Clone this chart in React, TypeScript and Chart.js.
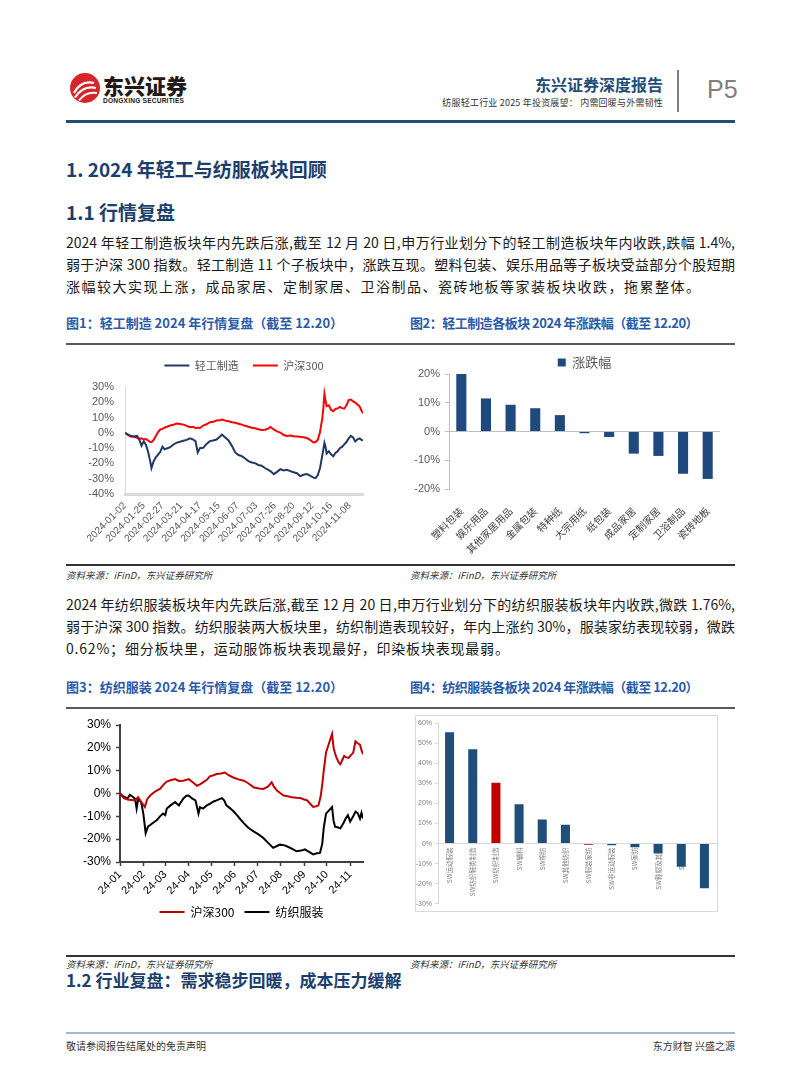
import React, { useEffect, useRef } from 'react';
import { Chart, registerables } from 'chart.js';

Chart.register(...registerables);

const SANS = "'Liberation Sans', 'Noto Sans CJK SC', sans-serif";
const CJK = "'Noto Sans CJK SC', 'Liberation Sans', sans-serif";
Chart.defaults.font.family = SANS;

// ---------------- Figure 1: 轻工制造 vs 沪深300 (trading-day index) ----------------
const fig1Series = ['轻工制造', '沪深300'];
const fig1TickDays = [0, 17, 34, 51, 68, 85, 102, 119, 136, 153, 170, 187, 204];
const fig1TickLabels = ['2024-01-02', '2024-01-25', '2024-02-27', '2024-03-21', '2024-04-17', '2024-05-15', '2024-06-07', '2024-07-03', '2024-07-26', '2024-08-20', '2024-09-12', '2024-10-16', '2024-11-08'];
const fig1Days = [0, 3, 5, 8, 11, 13, 15, 17, 19, 21, 23, 24, 26, 28, 30, 32, 34, 36, 38, 41, 44, 47, 50, 53, 56, 59, 62, 64, 66, 68, 71, 74, 77, 80, 83, 86, 88, 91, 94, 97, 100, 103, 106, 109, 112, 115, 118, 121, 124, 127, 130, 132, 135, 138, 141, 144, 147, 150, 153, 156, 159, 162, 165, 168, 171, 173, 175, 177, 178, 179, 180, 181, 182, 183, 185, 187, 189, 191, 193, 195, 197, 199, 201, 203, 205, 207, 209, 211, 213, 215, 216];
const fig1LightIndustry = [0, -1.2, -1.8, -2.4, -2.0, -4.5, -8.4, -5.6, -7.8, -12.5, -19.0, -23.0, -18.5, -16.0, -14.2, -12.5, -9.0, -10.8, -10.2, -9.4, -7.6, -6.4, -5.8, -5.2, -4.6, -3.6, -4.4, -5.6, -12.8, -10.0, -9.8, -7.2, -5.4, -5.0, -4.4, -2.6, -1.2, -3.0, -5.0, -8.5, -12.8, -14.5, -15.2, -16.8, -18.5, -19.4, -19.8, -21.0, -21.5, -23.0, -24.2, -25.0, -27.0, -25.5, -23.8, -24.6, -24.2, -25.0, -25.8, -26.4, -28.3, -27.4, -27.0, -28.0, -29.3, -29.6, -27.6, -23.0, -19.0, -15.0, -11.0, -6.5, -9.0, -13.5, -12.0, -14.0, -15.3, -13.2, -12.0, -10.0, -9.2, -7.5, -6.0, -3.6, -2.0, -3.0, -5.6, -4.2, -3.6, -4.8, -4.6];
const fig1Hs300 = [0, -1.5, -2.4, -2.6, -3.2, -3.9, -3.5, -4.4, -4.0, -5.0, -6.0, -6.1, -4.6, -2.0, 0.5, 2.2, 2.6, 3.4, 4.0, 4.8, 5.3, 6.1, 5.8, 5.4, 4.6, 3.7, 4.0, 3.0, 3.4, 3.2, 4.8, 5.6, 7.0, 7.2, 8.1, 8.2, 8.7, 8.0, 7.6, 7.0, 6.6, 6.0, 5.4, 4.6, 4.0, 3.3, 3.0, 2.4, 1.8, 2.0, 2.8, 3.8, 2.2, 1.0, 0.2, -1.4, -2.0, -1.8, -2.2, -2.4, -2.6, -2.9, -3.4, -4.6, -6.3, -6.0, -4.5, 0.5, 5.0, 9.0, 16.0, 25.5, 21.0, 17.5, 18.0, 15.0, 14.2, 15.6, 16.0, 17.0, 16.2, 15.8, 18.0, 21.4, 21.8, 20.6, 19.8, 18.6, 17.2, 14.0, 12.8];

// ---------------- Figure 2: 轻工制造各板块涨跌幅 ----------------
const fig2Series = '涨跌幅';
const fig2Categories = ['塑料包装', '娱乐用品', '其他家居用品', '金属包装', '特种纸', '大宗用纸', '纸包装', '成品家居', '定制家居', '卫浴制品', '瓷砖地板'];
const fig2Change = [20.0, 11.5, 9.3, 8.1, 5.7, -0.6, -1.9, -7.7, -8.5, -14.7, -16.5];

// ---------------- Figure 3: 纺织服装 vs 沪深300 (calendar-day index) ----------------
const fig3Series = ['沪深300', '纺织服装'];
const fig3MonthTicks = [0, 31, 60, 91, 121, 152, 182, 213, 244, 274, 305];
const fig3MonthLabels = ['24-01', '24-02', '24-03', '24-04', '24-05', '24-06', '24-07', '24-08', '24-09', '24-10', '24-11'];
const fig3Hs300Days = [0, 5, 10, 15, 20, 24, 28, 33, 36, 40, 44, 48, 53, 58, 62, 67, 73, 78, 84, 91, 96, 102, 106, 110, 115, 119, 124, 128, 134, 139, 144, 150, 157, 164, 170, 177, 184, 190, 196, 201, 204, 208, 213, 217, 222, 228, 234, 239, 244, 248, 252, 256, 260, 263, 266, 268, 270, 273, 281, 283, 285, 287, 290, 292, 295, 297, 300, 303, 306, 309, 312, 315, 318, 320, 322];
const fig3Hs300 = [0, -2.0, -2.6, -2.8, -3.0, -1.6, -3.7, -5.9, -2.5, -0.9, 0.2, 1.2, 2.0, 4.0, 5.2, 5.8, 6.3, 5.5, 5.6, 6.3, 5.0, 3.4, 4.0, 4.9, 6.0, 7.5, 8.0, 8.5, 8.8, 9.2, 8.0, 7.0, 6.2, 5.6, 4.5, 2.7, 2.2, 2.0, 3.0, 4.9, 3.0, 1.3, 0.0, -0.9, -1.2, -1.6, -1.9, -2.0, -2.6, -3.0, -4.5, -5.9, -5.6, -5.2, -1.0, 4.0, 10.0, 18.0, 26.1, 20.0, 17.5, 15.6, 13.5, 12.8, 15.0, 16.4, 15.8, 15.6, 16.8, 17.8, 22.8, 22.0, 21.4, 19.0, 17.2];
const fig3TextileDays = [0, 5, 10, 13, 16, 20, 22, 24, 28, 31, 34, 37, 40, 44, 49, 53, 57, 60, 62, 67, 73, 78, 84, 88, 91, 96, 100, 104, 106, 110, 115, 119, 124, 128, 135, 138, 141, 146, 151, 155, 160, 164, 170, 177, 184, 190, 196, 203, 208, 212, 217, 221, 227, 234, 240, 245, 250, 256, 261, 265, 268, 270, 273, 281, 283, 285, 288, 292, 296, 299, 302, 305, 309, 312, 315, 318, 320, 322];
const fig3Textile = [0, -1.4, -2.2, -0.6, -1.2, -2.3, -6.6, -2.5, -3.7, -9.0, -17.4, -14.5, -13.8, -12.8, -11.6, -10.0, -8.8, -9.5, -6.6, -5.2, -3.7, -5.2, -2.2, -1.0, -0.9, -2.3, -3.0, -8.8, -6.0, -6.6, -5.2, -4.5, -3.5, -3.0, -2.0, -3.0, -5.2, -6.5, -8.0, -9.5, -11.5, -13.0, -15.0, -16.6, -18.0, -19.5, -21.5, -23.8, -23.0, -22.4, -22.6, -23.1, -24.0, -25.3, -25.0, -24.5, -25.5, -26.7, -26.2, -26.0, -22.0, -15.0, -8.8, -5.9, -12.0, -14.5, -14.8, -15.2, -13.0, -11.0, -9.5, -12.3, -10.0, -8.0, -8.6, -11.0, -8.5, -10.9];

// ---------------- Figure 4: 纺织服装各板块涨跌幅 ----------------
const fig4Categories = ['SW运动服装', 'SW纺织鞋类制造', 'SW纺织制造', 'SW辅料', 'SW棉纺', 'SW其他纺织', 'SW服装家纺', 'SW非运动服装', 'SW家纺', 'SW鞋帽及其他', 'SW饰品', 'SW印染'];
const fig4Change = [55.5, 47.0, 30.3, 19.6, 12.0, 9.4, -0.62, -0.8, -1.8, -4.9, -11.5, -22.2];
const fig4Highlighted = ['SW纺织制造', 'SW服装家纺'];

const pct = (v: any) => v + '%';

function legendExtra(extra: number) {
  return {
    id: 'legendExtra',
    beforeLayout(chart: any) {
      const lg = chart.legend;
      if (lg && !lg.__patched) {
        const orig = lg.fit.bind(lg);
        lg.fit = () => {
          orig();
          lg.height += extra;
        };
        lg.__patched = true;
      }
    },
  };
}

function ChartBox({ left, top, width, height, make }: any) {
  const ref = useRef<HTMLCanvasElement>(null);
  useEffect(() => {
    const chart = new Chart(ref.current as HTMLCanvasElement, make());
    return () => chart.destroy();
  }, []);
  return (
    <canvas
      ref={ref}
      width={width}
      height={height}
      style={{ position: 'absolute', left, top, width, height, display: 'block' }}
    />
  );
}

const fig1Config = (): any => ({
  type: 'line',
  data: {
    datasets: [
      {
        label: fig1Series[0],
        data: fig1Days.map((d, i) => ({ x: d, y: fig1LightIndustry[i] })),
        borderColor: '#1f3864',
        backgroundColor: '#1f3864',
        borderWidth: 2,
        pointRadius: 0,
        tension: 0,
      },
      {
        label: fig1Series[1],
        data: fig1Days.map((d, i) => ({ x: d, y: fig1Hs300[i] })),
        borderColor: '#ff0000',
        backgroundColor: '#ff0000',
        borderWidth: 2,
        pointRadius: 0,
        tension: 0,
      },
    ],
  },
  options: {
    responsive: false,
    animation: false,
    devicePixelRatio: 1,
    layout: { padding: { left: 0, right: 29, top: 0, bottom: 0 } },
    plugins: {
      tooltip: { enabled: false },
      legend: {
        position: 'top',
        fullSize: false,
        labels: {
          usePointStyle: true,
          pointStyle: 'line',
          pointStyleWidth: 25,
          padding: 14,
          color: '#595959',
          font: { size: 11, family: CJK },
        },
      },
    },
    scales: {
      x: {
        type: 'linear',
        min: 0,
        max: 216,
        afterBuildTicks: (s: any) => {
          s.ticks = fig1TickDays.map((v) => ({ value: v }));
        },
        afterFit: (s: any) => {
          s.height = 68;
        },
        grid: { display: false, drawTicks: false },
        border: { display: true, color: '#d9d9d9', width: 3 },
        ticks: {
          autoSkip: false,
          minRotation: 45,
          maxRotation: 45,
          padding: 6,
          color: '#595959',
          font: { size: 10 },
          callback: (_v: any, i: number) => fig1TickLabels[i],
        },
      },
      y: {
        min: -40,
        max: 30,
        afterFit: (s: any) => {
          s.width = 59;
        },
        grid: { display: false, drawTicks: false },
        border: { display: true, color: '#d9d9d9', width: 1 },
        ticks: { autoSkip: false, stepSize: 10, padding: 11, color: '#595959', font: { size: 11 }, callback: pct },
      },
    },
  },
  plugins: [legendExtra(6)],
});

const fig2Config = (): any => ({
  type: 'bar',
  data: {
    labels: fig2Categories,
    datasets: [
      {
        label: fig2Series,
        data: fig2Change,
        backgroundColor: '#204a7e',
        borderWidth: 0,
        barPercentage: 0.41,
        categoryPercentage: 1,
      },
    ],
  },
  options: {
    responsive: false,
    animation: false,
    devicePixelRatio: 1,
    layout: { padding: { left: 0, right: 15, top: 0, bottom: 0 } },
    plugins: {
      tooltip: { enabled: false },
      legend: {
        position: 'top',
        fullSize: false,
        labels: { boxWidth: 8, boxHeight: 8, padding: 10, color: '#595959', font: { size: 13, family: CJK } },
      },
    },
    scales: {
      x: {
        afterFit: (s: any) => {
          s.height = 73;
        },
        grid: { display: false },
        border: { display: false },
        ticks: {
          autoSkip: false,
          minRotation: 45,
          maxRotation: 45,
          padding: 8,
          color: '#404040',
          font: { size: 10, family: CJK },
        },
      },
      y: {
        min: -20,
        max: 20,
        afterFit: (s: any) => {
          s.width = 39;
        },
        grid: {
          display: true,
          drawOnChartArea: true,
          drawTicks: true,
          tickLength: 4,
          tickColor: '#bfbfbf',
          color: (ctx: any) => (ctx.tick && ctx.tick.value === 0 ? '#bfbfbf' : 'rgba(0,0,0,0)'),
        },
        border: { display: true, color: '#bfbfbf', width: 1 },
        ticks: { autoSkip: false, stepSize: 10, padding: 5, color: '#595959', font: { size: 11 }, callback: pct },
      },
    },
  },
  plugins: [legendExtra(-5)],
});

const fig3Config = (): any => ({
  type: 'line',
  data: {
    datasets: [
      {
        label: fig3Series[0],
        data: fig3Hs300Days.map((d, i) => ({ x: d, y: fig3Hs300[i] })),
        borderColor: '#c00000',
        backgroundColor: '#c00000',
        borderWidth: 2,
        pointRadius: 0,
        tension: 0,
      },
      {
        label: fig3Series[1],
        data: fig3TextileDays.map((d, i) => ({ x: d, y: fig3Textile[i] })),
        borderColor: '#000000',
        backgroundColor: '#000000',
        borderWidth: 2,
        pointRadius: 0,
        tension: 0,
      },
    ],
  },
  options: {
    responsive: false,
    animation: false,
    devicePixelRatio: 1,
    layout: { padding: { left: 0, right: 29, top: 15, bottom: 27 } },
    plugins: {
      tooltip: { enabled: false },
      legend: {
        position: 'bottom',
        fullSize: false,
        labels: {
          usePointStyle: true,
          pointStyle: 'line',
          pointStyleWidth: 25,
          padding: 10,
          color: '#000',
          font: { size: 12, family: CJK },
        },
      },
    },
    scales: {
      x: {
        type: 'linear',
        min: 0,
        max: 322,
        afterBuildTicks: (s: any) => {
          s.ticks = fig3MonthTicks.map((v) => ({ value: v }));
        },
        afterFit: (s: any) => {
          s.height = 34;
        },
        grid: { display: true, drawOnChartArea: false, drawTicks: true, tickLength: 4, tickWidth: 1.5, tickColor: '#404040' },
        border: { display: true, color: '#404040', width: 2 },
        ticks: {
          autoSkip: false,
          minRotation: 45,
          maxRotation: 45,
          padding: 2,
          color: '#000',
          font: { size: 11 },
          callback: (_v: any, i: number) => fig3MonthLabels[i],
        },
      },
      y: {
        min: -30,
        max: 30,
        afterFit: (s: any) => {
          s.width = 54;
        },
        grid: { display: true, drawOnChartArea: false, drawTicks: true, tickLength: 4, tickWidth: 1.5, tickColor: '#404040' },
        border: { display: true, color: '#404040', width: 2 },
        ticks: { autoSkip: false, stepSize: 10, padding: 5, color: '#000', font: { size: 12 }, callback: pct },
      },
    },
  },
});

const fig4Config = (): any => ({
  type: 'bar',
  data: {
    labels: fig4Categories,
    datasets: [
      {
        label: '涨跌幅',
        data: fig4Change,
        backgroundColor: fig4Categories.map((c) => (fig4Highlighted.includes(c) ? '#c00000' : '#1f4e79')),
        borderWidth: 0,
        barPercentage: 0.39,
        categoryPercentage: 1,
      },
    ],
  },
  options: {
    responsive: false,
    animation: false,
    devicePixelRatio: 1,
    layout: { padding: { left: 0, right: 1, top: 3, bottom: 4 } },
    plugins: { tooltip: { enabled: false }, legend: { display: false } },
    scales: {
      x: {
        position: { y: 0 },
        grid: { display: false, drawTicks: false },
        border: { display: true, color: '#d9d9d9', width: 1 },
        ticks: {
          autoSkip: false,
          minRotation: 90,
          maxRotation: 90,
          padding: 4,
          color: '#7f7f7f',
          font: { size: 6.5, family: CJK },
        },
      },
      y: {
        min: -30,
        max: 60,
        afterFit: (s: any) => {
          s.width = 22;
        },
        grid: { display: true, drawOnChartArea: false, drawTicks: true, tickLength: 3, tickColor: '#d9d9d9' },
        border: { display: true, color: '#d9d9d9', width: 1 },
        ticks: { autoSkip: false, stepSize: 10, padding: 3, color: '#7f7f7f', font: { size: 7 }, callback: pct },
      },
    },
  },
});

function Txt({ x, y, size, children, color = '#1a1a1a', weight = 400, family = CJK, align = 'left', style = {} }: any) {
  const lh = Math.round(size * 1.4);
  const pos: any = align === 'right' ? { right: 802 - x } : { left: x };
  return (
    <div
      style={{
        position: 'absolute',
        top: y - lh / 2,
        ...pos,
        fontSize: size,
        lineHeight: lh + 'px',
        color,
        fontWeight: weight,
        fontFamily: family,
        whiteSpace: 'nowrap',
        ...style,
      }}
    >
      {children}
    </div>
  );
}

function Para({ y, children, justify = false, ls = 0, size = 14 }: any) {
  return (
    <div
      style={{
        position: 'absolute',
        left: 66,
        top: y - 11,
        width: 669,
        height: 22,
        lineHeight: '22px',
        fontSize: size,
        color: '#1a1a1a',
        fontFamily: CJK,
        textAlign: justify ? 'justify' : 'left',
        textAlignLast: justify ? 'justify' : 'auto',
        letterSpacing: ls,
        whiteSpace: justify ? 'normal' : 'nowrap',
      }}
    >
      {children}
    </div>
  );
}

function Rule({ x, y, w, h, color }: any) {
  return <div style={{ position: 'absolute', left: x, top: y, width: w, height: h, background: color }} />;
}

const NAVY = '#1c3f6e';
const CAPTION = '#2a5ba8';

export default function App() {
  return (
    <div
      style={{
        position: 'absolute',
        left: 0,
        top: 0,
        width: 802,
        height: 1087,
        background: '#fff',
        overflow: 'hidden',
        fontFamily: CJK,
      }}
    >
      {/* header logo */}
      <svg style={{ position: 'absolute', left: 69, top: 72 }} width="32" height="32" viewBox="0 0 32 32">
        <circle cx="16" cy="16" r="15" fill="#d7262b" />
        <path d="M5 21 Q12 8 25 11" stroke="#fff" strokeWidth="2.2" fill="none" />
        <path d="M6 25.5 Q14 13 27 16" stroke="#fff" strokeWidth="2.2" fill="none" />
        <path d="M10 28.5 Q17 19 28 21" stroke="#fff" strokeWidth="2" fill="none" />
      </svg>
      <Txt x={103} y={85} size={21} weight={900} color="#231815">
        东兴证券
      </Txt>
      <Txt x={103} y={100} size={6.6} weight={700} color="#231815" family={SANS} style={{ letterSpacing: 0.2 }}>
        DONGXING SECURITIES
      </Txt>
      <Txt x={663} y={84} size={16} weight={700} color="#1f4e79" align="right">
        东兴证券深度报告
      </Txt>
      <Txt x={663} y={102} size={9} color="#333" align="right" style={{ letterSpacing: 0.2 }}>
        纺服轻工行业 2025 年投资展望： 内需回暖与外需韧性
      </Txt>
      <Rule x={677} y={70} w={1.5} h={42} color="#7f7f7f" />
      <Txt x={707} y={89} size={25} color="#7f7f7f" family={SANS}>
        P5
      </Txt>
      <Rule x={66} y={119.5} w={669} h={3} color="#1f4e79" />

      {/* headings */}
      <Txt x={66} y={168} size={19} weight={700} color={NAVY}>
        1. 2024 年轻工与纺服板块回顾
      </Txt>
      <Txt x={66} y={211} size={19} weight={700} color={NAVY}>
        1.1 行情复盘
      </Txt>

      {/* paragraph 1 */}
      <Para y={242} justify>
        2024 年轻工制造板块年内先跌后涨,截至 12 月 20 日,申万行业划分下的轻工制造板块年内收跌,跌幅 1.4%,
      </Para>
      <Para y={264} justify>
        弱于沪深 300 指数。轻工制造 11 个子板块中，涨跌互现。塑料包装、娱乐用品等子板块受益部分个股短期
      </Para>
      <Para y={286} ls={1.5}>
        涨幅较大实现上涨，成品家居、定制家居、卫浴制品、瓷砖地板等家装板块收跌，拖累整体。
      </Para>

      {/* captions fig1/fig2 */}
      <Txt x={66} y={323} size={13} weight={700} color={CAPTION}>
        图1：轻工制造 2024 年行情复盘（截至 12.20）
      </Txt>
      <Txt x={410} y={323} size={13} weight={700} color={CAPTION} style={{ letterSpacing: -0.5 }}>
        图2：轻工制造各板块 2024 年涨跌幅（截至 12.20）
      </Txt>
      <Rule x={66} y={343} w={669} h={1.5} color="#595959" />

      <ChartBox left={66} top={346} width={326} height={216} make={fig1Config} />
      <ChartBox left={410} top={346} width={325} height={216} make={fig2Config} />

      <Rule x={66} y={564} w={669} h={1.5} color="#333" />
      <Txt x={66} y={575} size={9.5} color="#333" style={{ fontStyle: 'italic' }}>
        资料来源：iFinD，东兴证券研究所
      </Txt>
      <Txt x={410} y={575} size={9.5} color="#333" style={{ fontStyle: 'italic' }}>
        资料来源：iFinD，东兴证券研究所
      </Txt>

      {/* paragraph 2 */}
      <Para y={604} justify>
        2024 年纺织服装板块年内先跌后涨,截至 12 月 20 日,申万行业划分下的纺织服装板块年内收跌,微跌 1.76%,
      </Para>
      <Para y={626} justify>
        弱于沪深 300 指数。纺织服装两大板块里，纺织制造表现较好，年内上涨约 30%，服装家纺表现较弱，微跌
      </Para>
      <Para y={648} ls={0.8}>
        0.62%；细分板块里，运动服饰板块表现最好，印染板块表现最弱。
      </Para>

      {/* captions fig3/fig4 */}
      <Txt x={66} y={687} size={13} weight={700} color={CAPTION}>
        图3：纺织服装 2024 年行情复盘（截至 12.20）
      </Txt>
      <Txt x={410} y={687} size={13} weight={700} color={CAPTION} style={{ letterSpacing: -0.5 }}>
        图4：纺织服装各板块 2024 年涨跌幅（截至 12.20）
      </Txt>
      <Rule x={66} y={707} w={669} h={1.5} color="#595959" />

      <ChartBox left={66} top={710} width={326} height={245} make={fig3Config} />
      <div
        style={{
          position: 'absolute',
          left: 415,
          top: 715,
          width: 303,
          height: 197,
          border: '1px solid #d9d9d9',
          boxSizing: 'border-box',
        }}
      />
      <ChartBox left={416} top={716} width={301} height={195} make={fig4Config} />

      <Rule x={66} y={955} w={669} h={1.5} color="#333" />
      <Txt x={66} y={964} size={9.5} color="#333" style={{ fontStyle: 'italic' }}>
        资料来源：iFinD，东兴证券研究所
      </Txt>
      <Txt x={410} y={964} size={9.5} color="#333" style={{ fontStyle: 'italic' }}>
        资料来源：iFinD，东兴证券研究所
      </Txt>

      <Txt x={66} y={980} size={17} weight={700} color={NAVY}>
        1.2 行业复盘：需求稳步回暖，成本压力缓解
      </Txt>

      {/* footer */}
      <Rule x={66} y={1032} w={669} h={2} color="#a3b6ca" />
      <Txt x={66} y={1046} size={10} color="#333">
        敬请参阅报告结尾处的免责声明
      </Txt>
      <Txt x={735} y={1046} size={10} color="#333" align="right">
        东方财智 兴盛之源
      </Txt>
    </div>
  );
}
